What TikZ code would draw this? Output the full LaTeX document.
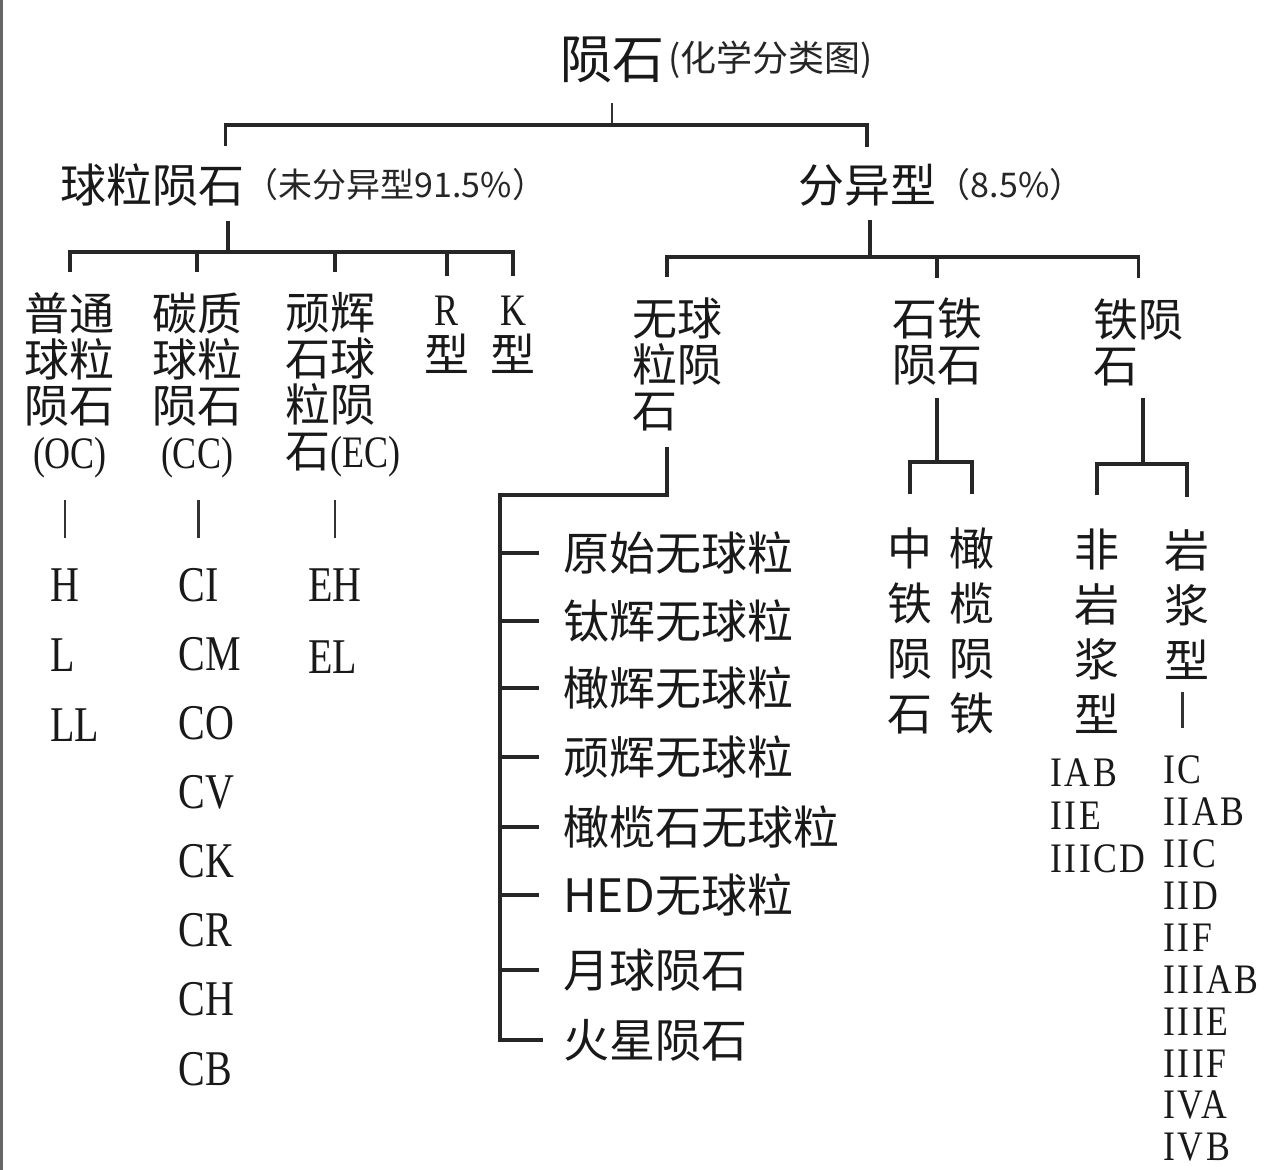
\documentclass[tikz,border=0pt]{standalone}
\usepackage{fontspec}
\setmainfont{Liberation Serif}
\newfontfamily\cjk{Noto Sans CJK SC}
\newfontfamily\lat[FakeStretch=0.8]{Liberation Serif}
\newfontfamily\latwide[FakeStretch=0.85, LetterSpace=6]{Liberation Serif}
\usetikzlibrary{positioning}
\tikzset{
    link/.style={draw=black!85, line width=1.6pt},
    tick/.style={draw=black!80, line width=1.2pt},
    titlef/.style={font=\cjk\fontsize{26}{26}\selectfont, inner sep=0pt, text=black!90},
    titlesub/.style={font=\cjk\fontsize{18}{18}\selectfont, inner sep=0pt, text=black!85},
    mainf/.style={font=\cjk\fontsize{23}{23}\selectfont, inner sep=0pt, text=black!90},
    subf/.style={font=\cjk\fontsize{17}{17}\selectfont, inner sep=0pt, text=black!85},
    vlab/.style={font=\cjk\fontsize{22.5}{23}\selectfont, align=center, inner sep=0pt, text=black!90},
    vlabw/.style={font=\cjk\fontsize{22.5}{27.5}\selectfont, align=center, inner sep=0pt, text=black!90},
    typ/.style={font=\lat\fontsize{25}{25}\selectfont, anchor=west, inner sep=0pt, text=black!90},
    ityp/.style={font=\latwide\fontsize{21}{21}\selectfont, anchor=west, inner sep=0pt, text=black!90}
}
\begin{document}
\begin{tikzpicture}[x=0.5pt, y=-0.5pt]
    \fill[white] (0,0) rectangle (1280,1170);
    \useasboundingbox (0,0) rectangle (1280,1170);
    \draw[black!60, line width=1.5pt] (1.5,0) -- (1.5,1170);

    % top level
    \node[titlef] (root) at (612,60) {陨石};
    \node[titlesub, right=2pt of root] (rootsub) {(化学分类图)};
    \node[mainf] (chon) at (152,185) {球粒陨石};
    \node[subf, right=0pt of chon] (chonsub) {（未分异型91.5\%）};
    \node[mainf] (diff) at (867,185) {分异型};
    \node[subf, right=0pt of diff] (diffsub) {（8.5\%）};
    \coordinate (rj) at (612,125);
    \coordinate (ct) at ([xshift=-9.5pt]chon.north east);
    \draw[tick, shorten <=10pt] (root.south) -- (rj);
    \draw[link, shorten <=8.5pt, shorten >=8.5pt] (ct) |- (rj) -| (diff.north);

    % chondrites
    \node[vlab] (oc) at (70,385) {普通\\球粒\\陨石\\{\lat (OC)}};
    \node[vlab] (cc) at (197,385) {碳质\\球粒\\陨石\\{\lat (CC)}};
    \node[vlab, align=left, anchor=west] (ec) at (285,385) {顽辉\\石球\\粒陨\\石{\lat (EC)}};
    \node[vlab] (rr) at (447,335) {{\lat R}\\型};
    \node[vlab] (kk) at (513,335) {{\lat K}\\型};
    \foreach \t [count=\i from 0] in {H,L,LL}
        \node[typ] (ocs\i) at (50,585+70*\i) {\t};
    \foreach \t [count=\i from 0] in {CI,CM,CO,CV,CK,CR,CH,CB}
        \node[typ] (ccs\i) at (178,585+69.1*\i) {\t};
    \foreach \t [count=\i from 0] in {EH,EL}
        \node[typ] (ecs\i) at (308,585+72*\i) {\t};
    \coordinate (cb) at (228,252);
    \draw[link, shorten <=7pt] (cb |- chon.south) -- (cb);
    \draw[link, shorten <=10pt, shorten >=10pt] (oc.north) |- (cb) -| (kk.north);
    \foreach \n in {cc,rr}
        \draw[link, shorten <=10pt] (\n.north) -- (\n.north |- cb);
    \draw[link, shorten <=10pt] (ecs0.north |- ec.north) -- (ecs0.north |- cb);
    \foreach \a/\b in {oc/ocs0,cc/ccs0,ec/ecs0}
        \draw[tick, shorten <=11pt, shorten >=15pt] (\b.north |- \a.south) -- (\b.north);

    % differentiated
    \node[vlab, align=left, anchor=west] (ach) at (632,364) {无球\\粒陨\\石};
    \node[vlab] (si) at (937,342) {石铁\\陨石};
    \node[vlab, align=left, anchor=west] (iron) at (1093,342) {铁陨\\石};
    \coordinate (db) at (870,257);
    \coordinate (at) at ([xshift=17.5pt]ach.north west);
    \draw[link, shorten <=7pt] (db |- diff.south) -- (db);
    \draw[link, shorten <=10pt, shorten >=10pt] (at) |- (db) -| (iron.north);
    \draw[link, shorten <=10pt] (si.north) -- (si.north |- db);

    % achondrites
    \foreach \t/\y [count=\i] in {原始无球粒/553,钛辉无球粒/621,橄辉无球粒/688,顽辉无球粒/757,
        橄榄石无球粒/827,HED无球粒/895,月球陨石/970,火星陨石/1040}
        \node[mainf, anchor=west] (a\i) at (563,\y) {\t};
    \coordinate (sp) at (500,495);
    \draw[link, shorten <=8pt] (at |- ach.south) |- (sp) |- ([xshift=-10pt]a8.west);
    \foreach \i in {1,...,7}
        \draw[link] (a\i.west -| sp) -- ([xshift=-12pt]a\i.west);

    % stony-iron
    \node[vlabw] (mes) at (910,631) {中\\铁\\陨\\石};
    \node[vlabw] (pal) at (972,631) {橄\\榄\\陨\\铁};
    \coordinate (sj) at (937,462);
    \draw[link, shorten <=6pt] (si.south) -- (sj);
    \draw[link, shorten <=16.5pt, shorten >=16.5pt] (mes.north) |- (sj) -| (pal.north);

    % iron
    \node[vlabw] (nonmag) at (1097,631) {非\\岩\\浆\\型};
    \node[vlabw] (mag) at (1187,605) {岩\\浆\\型};
    \coordinate (ij) at (1143,464);
    \draw[link, shorten <=6pt] (ij |- iron.south) -- (ij);
    \draw[link, shorten <=16.5pt, shorten >=16.5pt] (nonmag.north) |- (ij) -| (mag.north);
    \foreach \t [count=\i from 0] in {IAB,IIE,IIICD}
        \node[ityp] (ns\i) at (1050,773+43*\i) {\t};
    \foreach \t [count=\i from 0] in {IC,IIAB,IIC,IID,IIF,IIIAB,IIIE,IIIF,IVA,IVB}
        \node[ityp] (ics\i) at (1163,770+41.9*\i) {\t};
    \draw[tick, shorten <=6pt, shorten >=13.5pt] (ics0.north |- mag.south) -- (ics0.north);
\end{tikzpicture}
\end{document}
